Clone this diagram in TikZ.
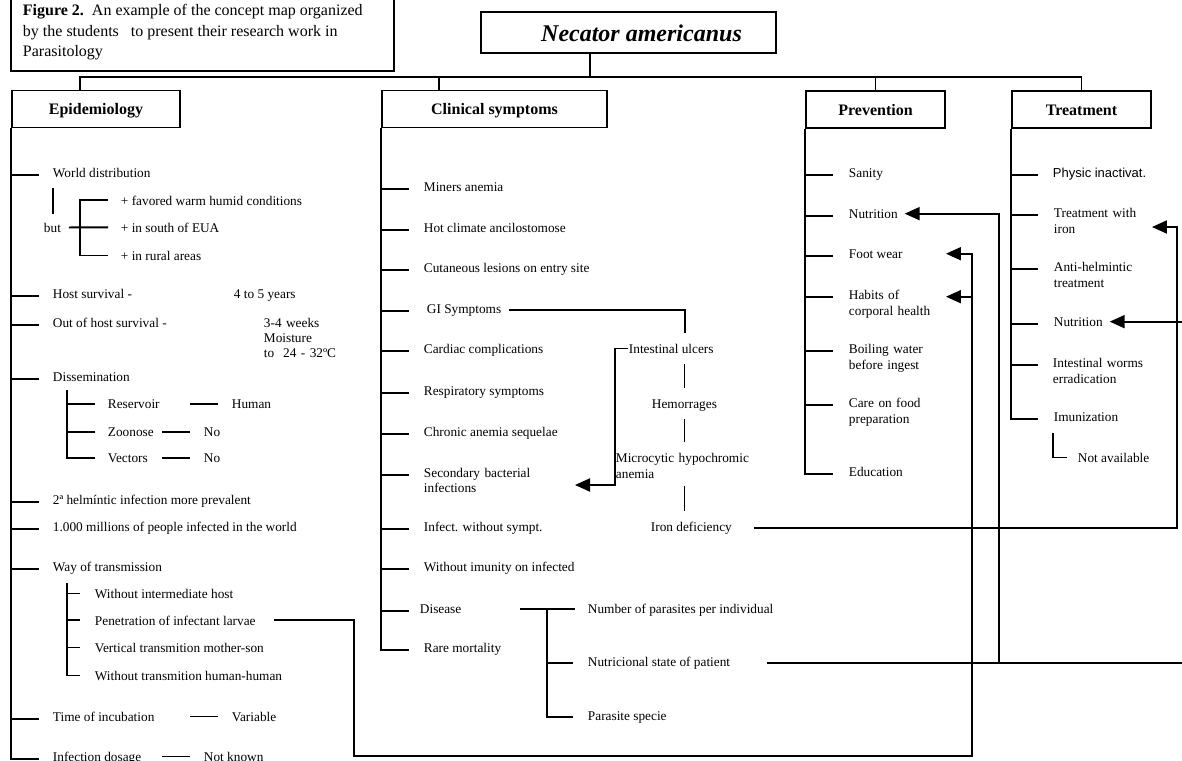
\documentclass[tikz,border=0pt]{standalone}
\usepackage{fontspec}
\setmainfont{Liberation Serif}
\newfontfamily\sansfnt{Liberation Sans}
\usetikzlibrary{arrows.meta}

\tikzset{
  txt/.style={anchor=base west, inner sep=0pt, yshift=-4pt, align=left,
    font=\fontsize{13.3}{16}\selectfont},
  two/.style={text width=160pt},
  head/.style={draw, inner sep=0pt, minimum height=37pt, text height=11pt, text depth=0pt,
    font=\bfseries\fontsize{16}{19}\selectfont},
  arr/.style={-{Triangle[length=15pt,width=13pt]}},
}

\begin{document}
\begin{tikzpicture}[x=1pt, y=-1pt, line width=1.9pt]
\useasboundingbox (0,0) rectangle (1182,760);

% caption and title
\node[draw, line width=1.2pt, minimum width=383pt, minimum height=73pt] (capbox) at (202.5,34.5) {};
\node[anchor=north west, inner sep=0pt, align=left, font=\fontsize{16}{20.5}\selectfont] (cap) at (22,3.6)
  {\textbf{Figure 2.}\ \ An example of the concept map organized\\by the students \ \ to present their research work in\\Parasitology};
\node[draw, minimum width=295pt, minimum height=41pt] (title) at (628.5,32.5) {};
\node[inner sep=0pt, font=\bfseries\itshape\fontsize{24}{28}\selectfont] (name) at (641.5,33) {Necator americanus};

% headers
\node[head, minimum width=168pt] (epi) at (96,109) {Epidemiology};
\node[head, minimum width=225pt] (clin) at (494.5,109) {Clinical symptoms};
\node[head, minimum width=139pt] (prev) at (875.5,109.5) {Prevention};
\node[head, minimum width=139pt] (treat) at (1081.5,109.5) {Treatment};

\coordinate (bar) at (590,77);
\draw (title.south -| bar) -- (bar);
\draw ([xshift=69pt]epi.north west) |- (bar) -| (treat.north);
\draw ([xshift=58pt]clin.north west) -- ++(0,-14);
\draw (prev.north) -- ++(0,-14.5);

% Epidemiology
\node[txt] (wd) at (52,173) {World distribution};
\node[txt] (but) at (43,228) {but};
\node[txt] (fav) at (120,201) {+ favored warm humid conditions};
\node[txt] (sou) at (120,228) {+ in south of EUA};
\node[txt] (rur) at (120,256) {+ in rural areas};
\node[txt] (hs) at (52,294) {Host survival -};
\node[txt] (hsv) at (233,294) {4 to 5 years};
\node[txt] (ohs) at (52,323) {Out of host survival -};
\node[txt, two, font=\fontsize{13.3}{15}\selectfont] (ohsv) at (263,323) {3-4 weeks\\Moisture\\to \ 24 - 32ºC};
\node[txt] (dis) at (52,377) {Dissemination};
\node[txt] (res) at (107,404) {Reservoir};
\node[txt] (hum) at (231,404) {Human};
\node[txt] (zoo) at (107,432) {Zoonose};
\node[txt] (zno) at (203,432) {No};
\node[txt] (vec) at (107,458) {Vectors};
\node[txt] (vno) at (203,458) {No};
\node[txt] (helm) at (52,500) {2ª helmíntic infection more prevalent};
\node[txt] (mill) at (52,527) {1.000 millions of people infected in the world};
\node[txt] (way) at (52,567) {Way of transmission};
\node[txt] (wih) at (94,594) {Without intermediate host};
\node[txt] (pen) at (94,621) {Penetration of infectant larvae};
\node[txt] (vert) at (94,648) {Vertical transmition mother-son};
\node[txt] (whh) at (94,676) {Without transmition human-human};
\node[txt] (inc) at (52,717) {Time of incubation};
\node[txt] (var) at (231,717) {Variable};
\node[txt] (dos) at (52,757) {Infection dosage};
\node[txt] (nk) at (203,757) {Not known};

\draw (epi.south west) -- (epi.west |- dos.mid west) -- ++(28,0);
\foreach \n in {wd,hs,ohs,dis,helm,mill,way,inc}
  \draw (epi.west |- \n.mid west) -- ++(28,0);
\draw (wd.south west) ++(1,9.5) -- ++(0,26);
\draw ([xshift=7pt]but.east) -- ([xshift=-12pt]sou.west);
\draw ([xshift=-12pt]fav.west) -| ([xshift=-40pt]rur.west) -- ([xshift=-12pt]rur.west);
\draw ([xshift=15pt,yshift=-8pt]dis.south west) |- ([xshift=-12pt]vec.west);
\foreach \n in {res,zoo} \draw ([xshift=-12pt]\n.west) -- ++(-28,0);
\foreach \n in {hum,zno,vno,var,nk} \draw ([xshift=-13pt]\n.west) -- ++(-28,0);
\draw ([xshift=15pt,yshift=-8pt]way.south west) |- ([xshift=-14pt]whh.west);
\foreach \n in {wih,pen,vert} \draw ([xshift=-14pt]\n.west) -- ++(-13,0);

% Clinical symptoms
\node[txt] (mine) at (423,187) {Miners anemia};
\node[txt] (hot) at (423,228) {Hot climate ancilostomose};
\node[txt] (cut) at (423,268) {Cutaneous lesions on entry site};
\node[txt] (gi) at (426,309) {GI Symptoms};
\node[txt] (card) at (423,349) {Cardiac complications};
\node[txt] (resp) at (423,391) {Respiratory symptoms};
\node[txt] (chr) at (423,432) {Chronic anemia sequelae};
\node[txt, two, font=\fontsize{13.3}{15}\selectfont] (sec) at (423,473) {Secondary bacterial\\infections};
\node[txt] (inf) at (423,527) {Infect. without sympt.};
\node[txt] (wim) at (423,567) {Without imunity on infected};
\node[txt] (dise) at (419,609) {Disease};
\node[txt] (rare) at (423,648) {Rare mortality};
\node[txt] (ulc) at (628,349) {Intestinal ulcers};
\node[txt] (hem) at (651,404) {Hemorrages};
\node[txt, two] (micro) at (615,458) {Microcytic hypochromic\\anemia};
\node[txt] (iron) at (650,527) {Iron deficiency};
\node[txt] (nps) at (587,609) {Number of parasites per individual};
\node[txt] (nsp) at (587,662) {Nutricional state of patient};
\node[txt] (psp) at (587,716) {Parasite specie};

\draw (clin.south west) -- (clin.west |- rare.mid west) -- ++(28,0);
\foreach \n in {mine,hot,cut,gi,card,resp,chr,sec,inf,wim,dise}
  \draw (clin.west |- \n.mid west) -- ++(28,0);
\draw ([xshift=7pt]gi.east) -| ([xshift=14pt,yshift=10pt]ulc.north);
\draw[shorten <=10pt, shorten >=10pt] (ulc.south -| hem.north) -- (hem.north);
\draw[shorten <=7pt, shorten >=10pt] (hem.south) -- (micro.north -| hem.south);
\draw[shorten <=7pt, shorten >=10pt] (micro.south -| hem.south) -- (iron.north -| hem.south);
\coordinate (sectip) at (575,485);
\draw[arr] (ulc.west) -- ++(-13,0) |- (sectip);
\draw ([xshift=58pt]dise.east) -- ++(55,0);
\draw ([xshift=-40pt]nps.west) |- ([xshift=-14pt]psp.west);
\draw ([xshift=-40pt]nsp.west) -- ++(26,0);

% Prevention
\node[txt] (san) at (848,173) {Sanity};
\node[txt] (pnut) at (848,214) {Nutrition};
\node[txt] (pfoot) at (848,254) {Foot wear};
\node[txt, two] (phab) at (848,295) {Habits of\\corporal health};
\node[txt, two] (pboil) at (848,349) {Boiling water\\before ingest};
\node[txt, two] (pcare) at (848,403) {Care on food\\preparation};
\node[txt] (pedu) at (848,472) {Education};

\draw (prev.south west) -- (prev.west |- pedu.mid west) -- ++(28,0);
\foreach \n in {san,pnut,pfoot,phab,pboil,pcare}
  \draw (prev.west |- \n.mid west) -- ++(28,0);

% Treatment
\node[txt, font=\sansfnt\fontsize{13}{16}\selectfont] (phys) at (1052,173) {Physic inactivat.};
\node[txt, two] (tiron) at (1053,213) {Treatment with\\iron};
\node[txt, two] (tanti) at (1053,267) {Anti-helmintic\\treatment};
\node[txt] (tnut) at (1053,322) {Nutrition};
\node[txt, two] (tworm) at (1052,363) {Intestinal worms\\erradication};
\node[txt] (timm) at (1053,417) {Imunization};
\node[txt] (tna) at (1077,458) {Not available};

\draw (treat.south west) -- (treat.west |- timm.mid west) -- ++(27,0);
\foreach \n in {phys,tiron,tanti,tnut,tworm}
  \draw (treat.west |- \n.mid west) -- ++(27,0);
\draw ([yshift=-11pt]timm.south west) |- ([xshift=-10pt]tna.west);

% cross links
\coordinate (pa) at (354,756);
\coordinate (pb) at (972,756);
\draw[arr] ([xshift=17pt]pen.east) -| (pa) -- (pb) |- (pfoot.east -| prev.east);
\draw[arr] (pb |- phab.mid west) -- (phab.mid west -| prev.east);
\coordinate (rr) at (1177,227);
\draw[arr] ([xshift=21pt]iron.east) -| (rr) -- (rr -| treat.east);
\coordinate (edgeA) at (1182,0);
\coordinate (jA) at (999,0);
\draw ([xshift=36pt]nsp.east) -- (nsp.east -| edgeA);
\draw[arr] (nsp.east -| jA) |- ([xshift=6pt]pnut.east);
\draw[arr] (tnut.east -| edgeA) -- ([xshift=6pt]tnut.east);
\end{tikzpicture}
\end{document}
